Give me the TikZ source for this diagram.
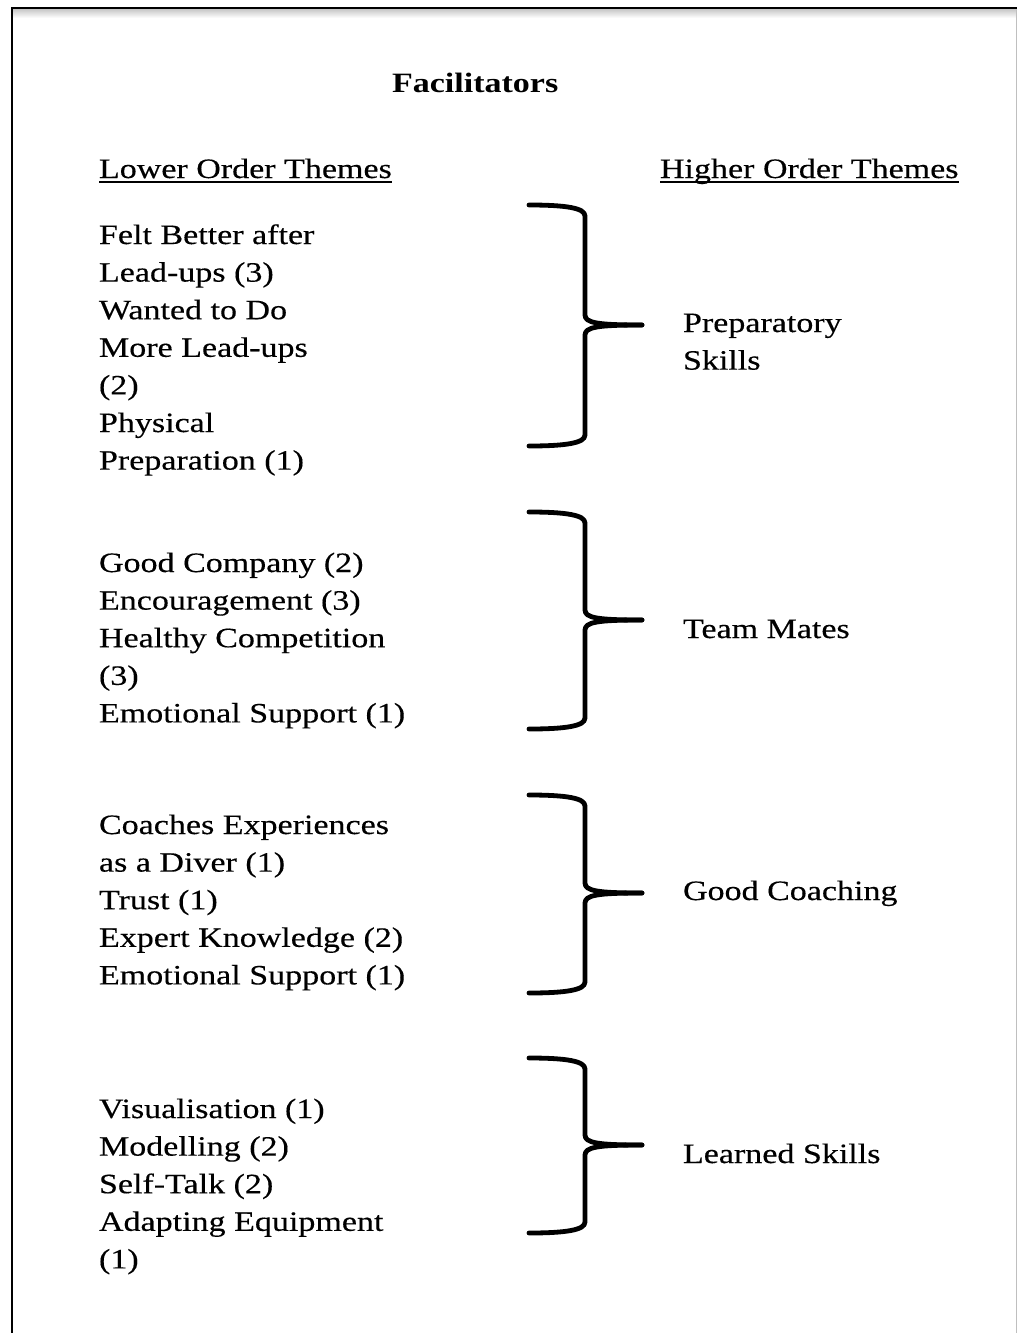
\documentclass[tikz,border=0pt]{standalone}
\usepackage{fontspec}
\setmainfont{Liberation Serif}[FakeStretch=1.215,UprightFeatures={FakeBold=0.35}]
\begin{document}
\begin{tikzpicture}[x=1pt,y=-1pt,
  txt/.style={inner sep=0pt,outer sep=0pt,align=left,anchor=north west,
    font=\fontsize{28}{37.6}\selectfont},
  hdr/.style={inner sep=0pt,outer sep=0pt,anchor=base west,
    font=\fontsize{28}{37.6}\selectfont},
  bracestyle/.style={line width=4.8pt,line cap=round,line join=round},
  frameline/.style={line width=2.4pt}]
\useasboundingbox (0,0) rectangle (1017,1333);
% frame
\shade[top color=black!22,bottom color=white] (13,9) rectangle (1017,18);
\draw[black!25,line width=1pt] (1016,9) -- (1016,1333);
\draw[frameline] (12,1333) -- (12,8) -- (1017,8);
% macro for braces
\newcommand\bracedraw[3]{%
 \draw[bracestyle] (529,#1) .. controls (566,#1) and (585,#1+3) .. (585,#1+11) -- (585,#2-10) .. controls (585,#2-2) and (598,#2) .. (642,#2);
 \draw[bracestyle] (642,#2) .. controls (598,#2) and (585,#2+2) .. (585,#2+10) -- (585,#3-11) .. controls (585,#3-3) and (566,#3) .. (529,#3);}
% title and headers
\node[hdr,font=\fontsize{28}{37.6}\selectfont\bfseries] (title) at (392,92) {Facilitators};
\node[hdr] (lot) at (99,178) {Lower Order Themes};
\node[hdr] (hot) at (660,178) {Higher Order Themes};
\draw[line width=2pt] ([yshift=-4pt]lot.base west) -- ([yshift=-4pt]lot.base east);
\draw[line width=2pt] ([yshift=-4pt]hot.base west) -- ([yshift=-4pt]hot.base east);
% group 1
\node[txt] (l1) at (99,244-20) {\rule{0pt}{20pt}Felt Better after\\Lead-ups (3)\\Wanted to Do\\More Lead-ups\\(2)\\Physical\\Preparation (1)};
\bracedraw{205}{325}{446}
\node[txt] (h1) at (683,332-20) {\rule{0pt}{20pt}Preparatory\\Skills};
% group 2
\node[txt] (l2) at (99,572-20) {\rule{0pt}{20pt}Good Company (2)\\Encouragement (3)\\Healthy Competition\\(3)\\Emotional Support (1)};
\bracedraw{512}{620}{729}
\node[txt] (h2) at (683,638-20) {\rule{0pt}{20pt}Team Mates};
% group 3
\node[txt] (l3) at (99,834-20) {\rule{0pt}{20pt}Coaches Experiences\\as a Diver (1)\\Trust (1)\\Expert Knowledge (2)\\Emotional Support (1)};
\bracedraw{795}{893}{993}
\node[txt] (h3) at (683,900-20) {\rule{0pt}{20pt}Good Coaching};
% group 4
\node[txt] (l4) at (99,1118-20) {\rule{0pt}{20pt}Visualisation (1)\\Modelling (2)\\Self-Talk (2)\\Adapting Equipment\\(1)};
\bracedraw{1058}{1145}{1233}
\node[txt] (h4) at (683,1163-20) {\rule{0pt}{20pt}Learned Skills};
\end{tikzpicture}
\end{document}
